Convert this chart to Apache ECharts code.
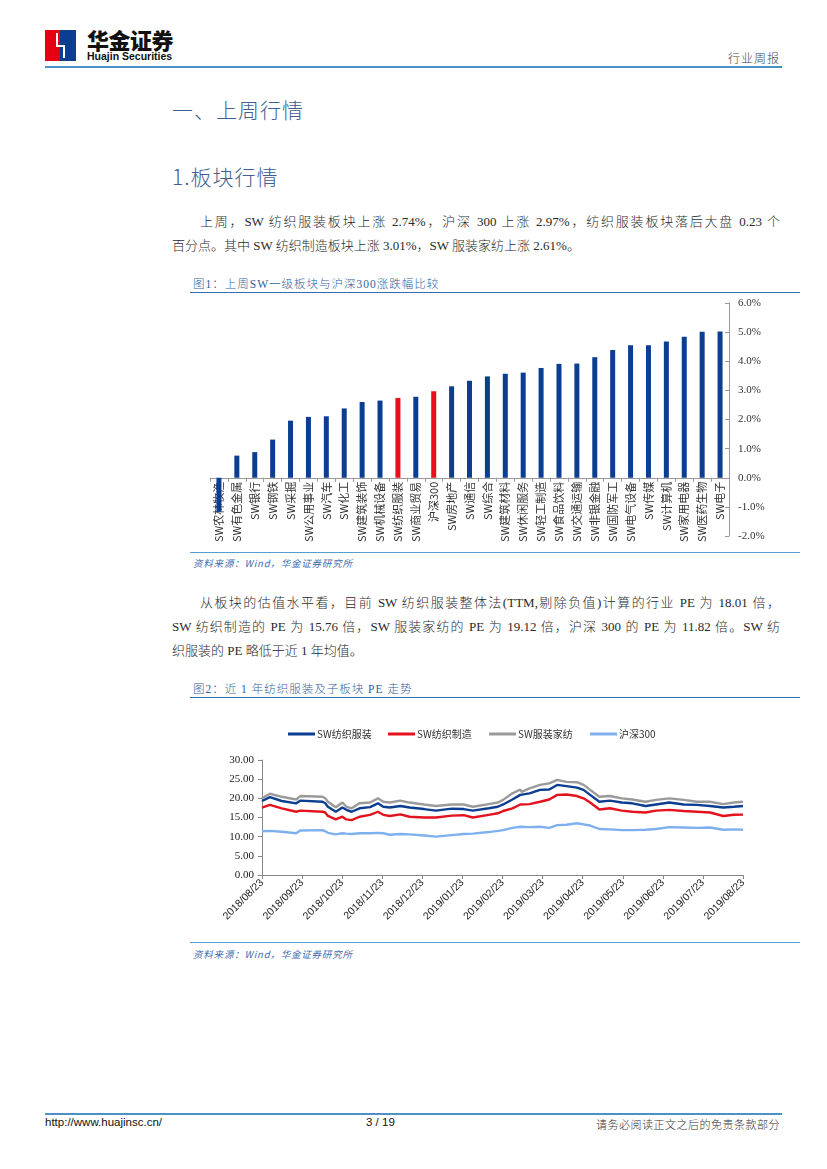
<!DOCTYPE html>
<html><head><meta charset="utf-8">
<script src="https://cdn.jsdelivr.net/npm/echarts/dist/echarts.min.js"></script>
<style>
body{margin:0;width:827px;height:1169px;position:relative;background:#fff;font-family:'Liberation Serif','Noto Sans CJK SC',serif;color:#222;overflow:hidden}
.a{position:absolute;white-space:nowrap}
.h1{font-family:'Noto Sans CJK SC',sans-serif;font-size:21px;color:#41608f;font-weight:300;letter-spacing:1px}
.p{font-size:13px;line-height:18px;color:#2a2a2a;font-weight:300}
.j{text-align:justify;text-align-last:justify}
.cap{font-size:11.5px;color:#2f5fa0;letter-spacing:1px;font-weight:300}
.src{font-size:9.5px;color:#3d6cb0;font-style:italic;font-family:'Noto Sans CJK SC',sans-serif;letter-spacing:0.8px}
.ln{position:absolute;height:1px;background:#3b83be}
</style></head><body>
<!-- header -->
<div class="a" style="left:45px;top:30px;width:15px;height:31px;background:#e60012"></div>
<div class="a" style="left:60px;top:30px;width:16px;height:31px;background:#0b3d91"></div>
<div class="a" style="left:56px;top:33px;width:2px;height:13px;background:#fff"></div>
<div class="a" style="left:56px;top:45px;width:9px;height:2px;background:#fff"></div>
<div class="a" style="left:63px;top:45px;width:2px;height:13px;background:#fff"></div>
<div class="a" style="left:87px;top:26px;font-family:'Noto Sans CJK SC',sans-serif;font-weight:900;font-size:22px;letter-spacing:-0.5px;color:#111;line-height:26px">华金证券</div>
<div class="a" style="left:87px;top:50px;font-family:'Liberation Sans',sans-serif;font-weight:bold;font-size:10.5px;color:#111;line-height:12px">Huajin Securities</div>
<div class="a" style="right:47px;top:49px;font-family:'Noto Sans CJK SC',sans-serif;font-size:12px;color:#444;letter-spacing:1px;font-weight:300">行业周报</div>
<div class="ln" style="left:45px;top:66px;width:737px;height:2px;background:#4a92c4"></div>

<div class="a h1" style="left:172px;top:94px">一、上周行情</div>
<div class="a h1" style="left:172px;top:161px">1.板块行情</div>

<div class="a p j" style="left:200px;top:213px;width:580px">上周，SW 纺织服装板块上涨 2.74%，沪深 300 上涨 2.97%，纺织服装板块落后大盘 0.23 个</div>
<div class="a p" style="left:172px;top:237px">百分点。其中 SW 纺织制造板块上涨 3.01%，SW 服装家纺上涨 2.61%。</div>

<div class="a cap" style="left:193px;top:275px">图1：上周SW一级板块与沪深300涨跌幅比较</div>
<div class="ln" style="left:190px;top:292px;width:610px;background:#2e6db0"></div>
<div id="c1" class="a" style="left:190px;top:295px;width:610px;height:255px"></div>
<div class="ln" style="left:190px;top:552px;width:610px;background:#5a9bd0"></div>
<div class="a src" style="left:193px;top:556px">资料来源：Wind，华金证券研究所</div>

<div class="a p j" style="left:200px;top:594px;width:580px">从板块的估值水平看，目前 SW 纺织服装整体法(TTM,剔除负值)计算的行业 PE 为 18.01 倍，</div>
<div class="a p j" style="left:172px;top:618px;width:608px">SW 纺织制造的 PE 为 15.76 倍，SW 服装家纺的 PE 为 19.12 倍，沪深 300 的 PE 为 11.82 倍。SW 纺</div>
<div class="a p" style="left:172px;top:642px">织服装的 PE 略低于近 1 年均值。</div>

<div class="a cap" style="left:193px;top:680px">图2：近 1 年纺织服装及子板块 PE 走势</div>
<div class="ln" style="left:190px;top:697px;width:610px;background:#2e6db0"></div>
<div id="c2" class="a" style="left:190px;top:700px;width:610px;height:242px"></div>
<div class="ln" style="left:190px;top:942px;width:610px;background:#5a9bd0"></div>
<div class="a src" style="left:193px;top:947px">资料来源：Wind，华金证券研究所</div>

<!-- footer -->
<div class="ln" style="left:45px;top:1113px;width:737px;height:2px;background:#4a92c4"></div>
<div class="a" style="left:45px;top:1116px;font-family:'Liberation Sans',sans-serif;font-size:11.5px;color:#111">http://www.huajinsc.cn/</div>
<div class="a" style="left:366px;top:1116px;font-family:'Liberation Sans',sans-serif;font-size:11.5px;color:#111">3 / 19</div>
<div class="a" style="right:47px;top:1116px;font-family:'Noto Sans CJK SC',sans-serif;font-size:11px;color:#333;letter-spacing:0.5px;font-weight:300">请务必阅读正文之后的免责条款部分</div>

<script>
// ---- Figure 1 data ----
const barCategories = ['SW农林牧渔','SW有色金属','SW银行','SW钢铁','SW采掘','SW公用事业','SW汽车','SW化工','SW建筑装饰','SW机械设备','SW纺织服装','SW商业贸易','沪深300','SW房地产','SW通信','SW综合','SW建筑材料','SW休闲服务','SW轻工制造','SW食品饮料','SW交通运输','SW非银金融','SW国防军工','SW电气设备','SW传媒','SW计算机','SW家用电器','SW医药生物','SW电子'];
const barValues = [-1.17,0.76,0.88,1.31,1.96,2.09,2.11,2.38,2.60,2.65,2.74,2.78,2.97,3.14,3.33,3.48,3.57,3.61,3.77,3.91,3.92,4.14,4.39,4.55,4.55,4.68,4.84,5.01,5.02];
const highlighted = ['SW纺织服装','沪深300'];
const yMin = -2, yMax = 6;

// ---- Figure 2 data ----
const peDates = ['2018-08-23','2018-08-24','2018-08-29','2018-09-07','2018-09-18','2018-09-21','2018-10-08','2018-10-10','2018-10-12','2018-10-18','2018-10-23','2018-10-26','2018-10-30','2018-11-05','2018-11-13','2018-11-19','2018-11-23','2018-11-28','2018-12-06','2018-12-13','2018-12-24','2019-01-02','2019-01-14','2019-01-23','2019-01-30','2019-02-11','2019-02-18','2019-02-22','2019-03-01','2019-03-07','2019-03-08','2019-03-14','2019-03-22','2019-03-29','2019-04-04','2019-04-11','2019-04-19','2019-04-24','2019-04-29','2019-05-06','2019-05-14','2019-05-23','2019-05-31','2019-06-10','2019-06-18','2019-06-28','2019-07-09','2019-07-19','2019-07-29','2019-08-08','2019-08-16','2019-08-23'];
const peTextile = [19.3,19.6,20.3,19.3,18.7,19.4,19.1,18.7,17.8,16.5,17.6,17.0,16.5,17.4,17.7,18.7,17.8,17.6,18.0,17.6,17.2,16.8,17.3,17.2,16.8,17.4,17.8,18.4,19.7,20.9,20.4,21.3,22.2,22.3,23.5,23.2,22.8,22.2,20.9,19.1,19.4,18.9,18.7,18.0,18.4,18.9,18.4,18.3,18.0,17.6,17.8,18.01];
const peManufacture = [17.6,17.8,18.3,17.4,16.5,16.8,16.5,16.3,15.4,14.5,15.2,14.5,14.3,15.2,15.7,16.5,15.7,15.4,15.8,15.2,15.0,15.0,15.5,15.6,15.0,15.7,16.1,16.7,17.4,18.4,17.9,18.5,19.1,19.7,20.9,21.0,20.6,20.0,18.9,17.1,17.4,16.8,16.5,16.3,16.8,17.0,16.7,16.5,16.3,15.4,15.7,15.76];
const peApparel = [20.0,20.4,21.2,20.4,19.7,20.6,20.4,20.0,19.1,17.7,18.9,17.8,17.4,18.7,18.9,20.0,19.1,18.9,19.4,18.9,18.4,18.0,18.4,18.4,17.8,18.5,18.9,19.6,21.3,22.3,21.7,22.6,23.5,23.9,24.8,24.3,24.2,23.5,22.2,20.4,20.6,20.0,19.7,19.1,19.6,20.0,19.6,19.1,19.1,18.5,18.9,19.12];
const peHS300 = [11.4,11.6,11.5,11.3,10.9,11.6,11.7,11.4,11.0,10.6,10.9,10.8,10.7,10.9,10.9,11.0,10.9,10.5,10.7,10.6,10.3,10.0,10.4,10.7,10.8,11.2,11.5,11.7,12.3,12.6,12.4,12.5,12.6,12.3,13.0,13.1,13.5,13.2,12.9,12.0,11.9,11.7,11.7,11.8,12.0,12.5,12.4,12.3,12.4,11.8,11.9,11.82];
const xTickLabels = ['2018/08/23','2018/09/23','2018/10/23','2018/11/23','2018/12/23','2019/01/23','2019/02/23','2019/03/23','2019/04/23','2019/05/23','2019/06/23','2019/07/23','2019/08/23'];
const seriesNames = ['SW纺织服装','SW纺织制造','SW服装家纺','沪深300'];

const CJK = "'Noto Sans CJK SC', sans-serif";
const SERIF = "'Liberation Serif', serif";

const gridH = 233;
// move the category axis (line, ticks, labels) up to the zero line
const zeroOffset = -gridH * (0 - yMin) / (yMax - yMin);

const c1 = echarts.init(document.getElementById('c1'));
c1.setOption({
  animation:false,
  grid:{left:20,right:71,top:8,height:gridH,containLabel:false,outerBoundsMode:'none'},
  xAxis:{type:'category',data:barCategories,position:'bottom',offset:zeroOffset,
    axisLine:{onZero:false,lineStyle:{color:'#999'}},
    axisTick:{show:true,length:4,lineStyle:{color:'#999'}},
    axisLabel:{interval:0,rotate:90,fontSize:11,color:'#333',margin:4,fontFamily:CJK}},
  yAxis:{type:'value',position:'right',min:yMin,max:yMax,interval:1,
    axisLine:{show:true,lineStyle:{color:'#999'}},
    axisTick:{show:true,inside:true,length:4,lineStyle:{color:'#999'}},
    splitLine:{show:false},
    axisLabel:{formatter:v=>v.toFixed(1)+'%',fontSize:11,color:'#333',margin:9,fontFamily:SERIF}},
  series:[{type:'bar',barWidth:5,z:5,
    data:barValues.map((v,i)=>({value:v,itemStyle:{color:highlighted.includes(barCategories[i])?'#e60f1a':'#0b3d91'}}))}]
});

const t0 = Date.UTC(2018,7,23);
const dayOf = s => { const [y,m,d]=s.split('-').map(Number); return (Date.UTC(y,m-1,d)-t0)/864e5; };
const step = 365/12;
const mk = arr => peDates.map((d,i)=>[dayOf(d),arr[i]]);
const colors = ['#0b3d91','#e3121d','#9a9a9a','#7eb0ee'];
const datas = [peTextile,peManufacture,peApparel,peHS300];
const legendLeft = [93,193,294,395];

const c2 = echarts.init(document.getElementById('c2'));
c2.setOption({
  animation:false,
  legend: seriesNames.map((n,i)=>({data:[n],left:legendLeft[i],top:24,icon:'rect',itemWidth:27,itemHeight:3,itemGap:0,
    textStyle:{fontSize:10,color:'#333',fontFamily:CJK,padding:[0,0,0,-3]}})),
  grid:{left:72,right:57,top:60,height:115,containLabel:false,outerBoundsMode:'none'},
  xAxis:{type:'value',min:0,max:365,interval:step,
    axisLine:{show:true,lineStyle:{color:'#888'}},
    axisTick:{show:true,length:4,lineStyle:{color:'#888'}},
    splitLine:{show:false},
    axisLabel:{rotate:45,fontSize:10.5,color:'#222',margin:6,fontFamily:"'Liberation Sans', sans-serif",showMaxLabel:true,hideOverlap:false,
      formatter:v=>xTickLabels[Math.round(v/step)]||''}},
  yAxis:{type:'value',min:0,max:30,interval:5,
    axisLine:{show:true,lineStyle:{color:'#888'}},
    axisTick:{show:true,length:4,lineStyle:{color:'#888'}},
    splitLine:{show:false},
    axisLabel:{formatter:v=>v.toFixed(2),fontSize:11,color:'#222',margin:8,fontFamily:SERIF}},
  series: seriesNames.map((n,i)=>({name:n,type:'line',showSymbol:false,symbol:'none',
    data:mk(datas[i]),lineStyle:{width:2.4,color:colors[i]},itemStyle:{color:colors[i]},z:4-i}))
});
</script>
</body></html>
